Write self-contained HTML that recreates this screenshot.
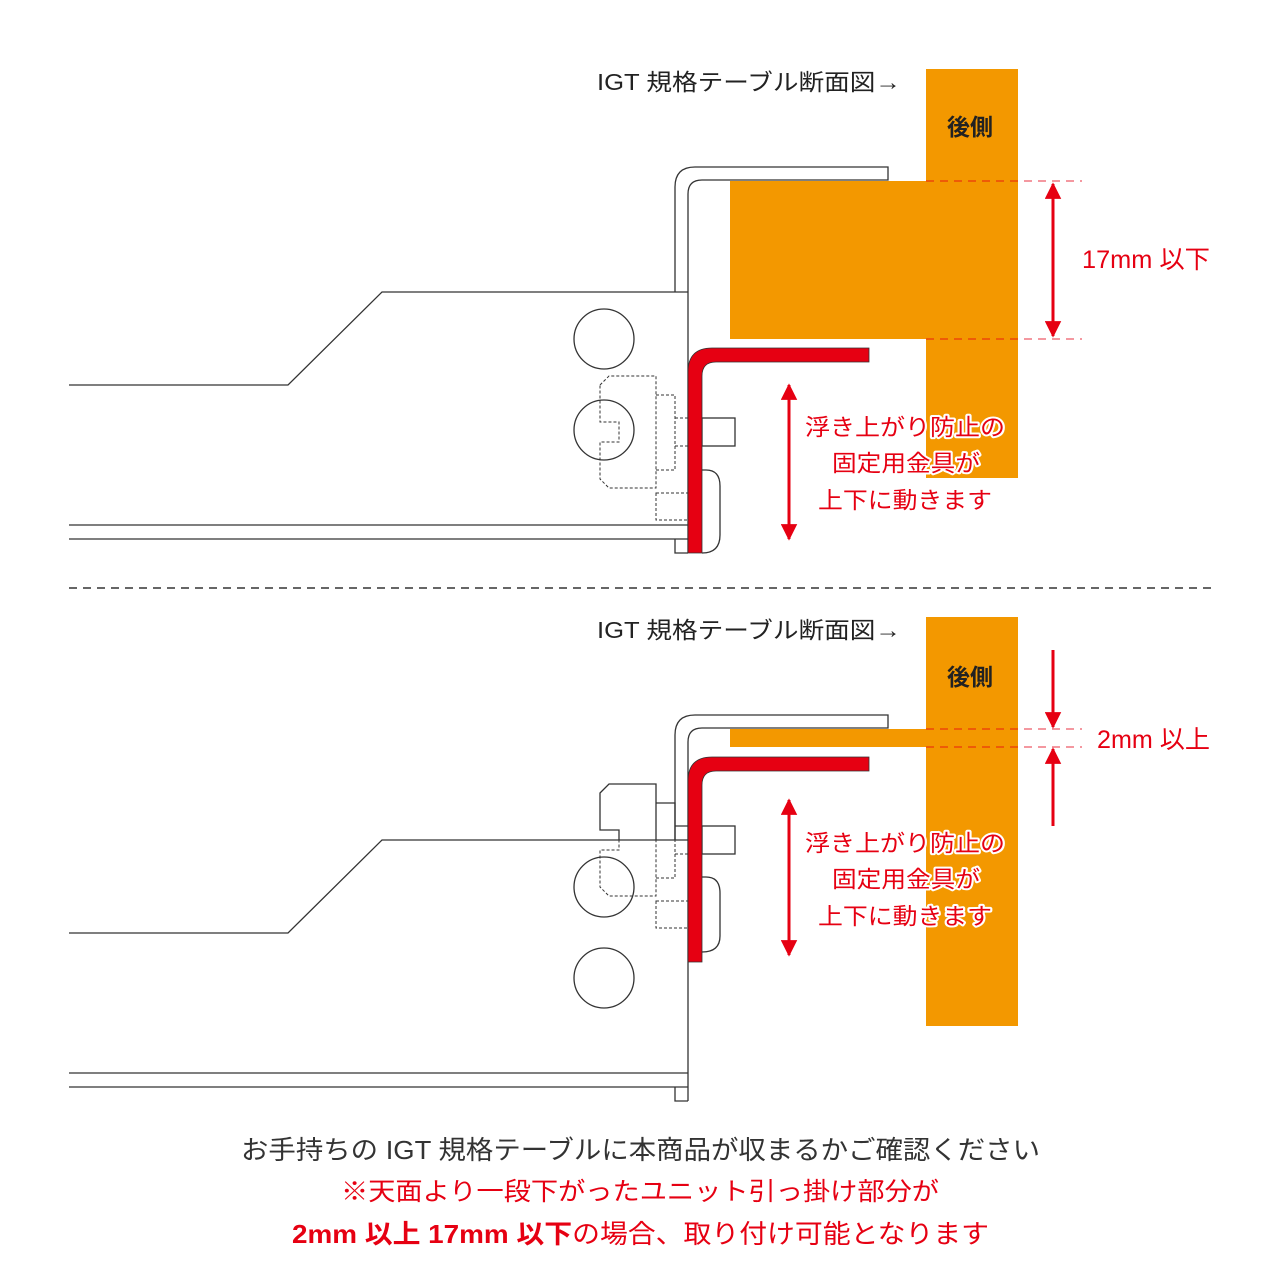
<!DOCTYPE html>
<html><head><meta charset="utf-8"><style>
html,body{margin:0;padding:0;background:#fff;}
svg{display:block;}
text{font-family:"Liberation Sans","Noto Sans CJK JP",sans-serif;}
</style></head><body>
<svg width="1280" height="1280" viewBox="0 0 1280 1280" xmlns="http://www.w3.org/2000/svg">
<defs>
  <marker id="ah" viewBox="0 0 10 10" refX="9" refY="5" markerWidth="5.5" markerHeight="5.5" orient="auto-start-reverse">
    <path d="M0,0 L10,5 L0,10 z" fill="#e60012"/>
  </marker>
  <clipPath id="blw1"><rect x="0" y="292" width="1280" height="300"/></clipPath>
  <clipPath id="abv2"><rect x="0" y="0" width="1280" height="840"/></clipPath>
  <clipPath id="blw2"><rect x="0" y="840" width="1280" height="400"/></clipPath>
  <g id="mvlines" fill="none">
    <path d="M600,385 L609,376 L656,376 L656,488 L609,488 L600,479 L600,442 L619,442 L619,422 L600,422 Z"/>
    <path d="M656,395 L675,395 L675,470 L656,470 M675,418 L688,418 M675,446 L688,446"/>
    <rect x="656" y="493" width="32" height="27"/>
  </g>
</defs>

<!-- ===== TOP PANEL ===== -->
<text x="597" y="90" font-size="23" fill="#222" textLength="304" lengthAdjust="spacingAndGlyphs">IGT 規格テーブル断面図→</text>
<rect x="926" y="69" width="92" height="409" fill="#f39800"/>
<rect x="730" y="181" width="288" height="158" fill="#f39800"/>
<text x="947" y="135" font-size="23" fill="#222" font-weight="bold">後側</text>

<g stroke="#333" stroke-width="1.3" fill="none">
  <path d="M69,385 L288,385 L382,292 L688,292"/>
  <path d="M675,292 L675,187 Q675,167 695,167 L888,167 L888,180 L702,180 Q688,180 688,194 L688,553"/>
  <path d="M69,525 L688,525 M69,539 L688,539"/>
  <path d="M675,539 L675,553 L688,553"/>
  <circle cx="604" cy="339" r="30"/>
  <circle cx="604" cy="430" r="30"/>
</g>
<g stroke="#333" stroke-width="1" stroke-dasharray="3,2" clip-path="url(#blw1)"><use href="#mvlines"/></g>
<g stroke="#333" stroke-width="1.3" fill="none">
  <rect x="702" y="418" width="33" height="28"/>
  <path d="M702,470 L706,470 Q720,470 720,486 L720,535 Q720,553 702,553"/>
</g>
<path d="M688,553 L688,372 Q688,348 712,348 L869,348 L869,362 L716,362 Q702,362 702,376 L702,553 Z" fill="#e60012" stroke="#333" stroke-width="0.8"/>

<g stroke="#e60012" stroke-width="1" stroke-dasharray="8,6" opacity="0.8">
  <line x1="926" y1="181" x2="1082" y2="181"/>
  <line x1="926" y1="339" x2="1082" y2="339"/>
</g>
<line x1="1053" y1="184" x2="1053" y2="336" stroke="#e60012" stroke-width="3" marker-start="url(#ah)" marker-end="url(#ah)"/>
<text x="1082" y="268" font-size="25" fill="#e60012" textLength="128" lengthAdjust="spacingAndGlyphs">17mm 以下</text>
<line x1="789" y1="385" x2="789" y2="539" stroke="#e60012" stroke-width="3" marker-start="url(#ah)" marker-end="url(#ah)"/>
<g font-size="23" fill="#e60012" stroke="#fff" stroke-width="4" paint-order="stroke" stroke-linejoin="round" text-anchor="middle">
  <text x="905" y="435" textLength="200" lengthAdjust="spacingAndGlyphs">浮き上がり防止の</text>
  <text x="906" y="471" textLength="148" lengthAdjust="spacingAndGlyphs">固定用金具が</text>
  <text x="905" y="508" textLength="174" lengthAdjust="spacingAndGlyphs">上下に動きます</text>
</g>

<line x1="69" y1="588" x2="1212" y2="588" stroke="#333" stroke-width="1.5" stroke-dasharray="8,6"/>

<!-- ===== BOTTOM PANEL ===== -->
<text x="597" y="638" font-size="23" fill="#222" textLength="304" lengthAdjust="spacingAndGlyphs">IGT 規格テーブル断面図→</text>
<rect x="926" y="617" width="92" height="409" fill="#f39800"/>
<rect x="730" y="729" width="288" height="18" fill="#f39800"/>
<text x="947" y="685" font-size="23" fill="#222" font-weight="bold">後側</text>

<g stroke="#333" stroke-width="1.3" fill="none">
  <path d="M69,933 L288,933 L382,840 L688,840"/>
  <path d="M675,840 L675,735 Q675,715 695,715 L888,715 L888,728 L702,728 Q688,728 688,742 L688,1101"/>
  <path d="M69,1073 L688,1073 M69,1087 L688,1087"/>
  <path d="M675,1087 L675,1101 L688,1101"/>
  <circle cx="604" cy="887" r="30"/>
  <circle cx="604" cy="978" r="30"/>
</g>
<g stroke="#333" stroke-width="1" stroke-dasharray="3,2" clip-path="url(#blw2)"><use href="#mvlines" transform="translate(0,408)"/></g>
<g stroke="#333" stroke-width="1.3" clip-path="url(#abv2)"><use href="#mvlines" transform="translate(0,408)"/></g>
<g stroke="#333" stroke-width="1.3" fill="none">
  <rect x="702" y="826" width="33" height="28"/>
  <path d="M702,877 L706,877 Q720,877 720,893 L720,936 Q720,952 702,952"/>
</g>
<path d="M688,962 L688,781 Q688,757 712,757 L869,757 L869,771 L716,771 Q702,771 702,785 L702,962 Z" fill="#e60012" stroke="#333" stroke-width="0.8"/>

<g stroke="#e60012" stroke-width="1" stroke-dasharray="8,6" opacity="0.8">
  <line x1="926" y1="729" x2="1082" y2="729"/>
  <line x1="926" y1="747" x2="1082" y2="747"/>
</g>
<line x1="1053" y1="650" x2="1053" y2="727" stroke="#e60012" stroke-width="3" marker-end="url(#ah)"/>
<line x1="1053" y1="826" x2="1053" y2="749" stroke="#e60012" stroke-width="3" marker-end="url(#ah)"/>
<text x="1097" y="748" font-size="25" fill="#e60012" textLength="113" lengthAdjust="spacingAndGlyphs">2mm 以上</text>
<line x1="789" y1="800" x2="789" y2="955" stroke="#e60012" stroke-width="3" marker-start="url(#ah)" marker-end="url(#ah)"/>
<g font-size="23" fill="#e60012" stroke="#fff" stroke-width="4" paint-order="stroke" stroke-linejoin="round" text-anchor="middle">
  <text x="905" y="851" textLength="200" lengthAdjust="spacingAndGlyphs">浮き上がり防止の</text>
  <text x="906" y="887" textLength="148" lengthAdjust="spacingAndGlyphs">固定用金具が</text>
  <text x="905" y="924" textLength="174" lengthAdjust="spacingAndGlyphs">上下に動きます</text>
</g>

<!-- ===== FOOTER ===== -->
<text x="241" y="1159" font-size="26" fill="#333" textLength="799" lengthAdjust="spacingAndGlyphs">お手持ちの IGT 規格テーブルに本商品が収まるかご確認ください</text>
<text x="341" y="1200" font-size="25" fill="#e60012" textLength="598" lengthAdjust="spacingAndGlyphs">※天面より一段下がったユニット引っ掛け部分が</text>
<text x="292" y="1243" font-size="26" fill="#e60012" textLength="697" lengthAdjust="spacingAndGlyphs"><tspan font-weight="bold">2mm 以上 17mm 以下</tspan>の場合、取り付け可能となります</text>
</svg>
</body></html>
